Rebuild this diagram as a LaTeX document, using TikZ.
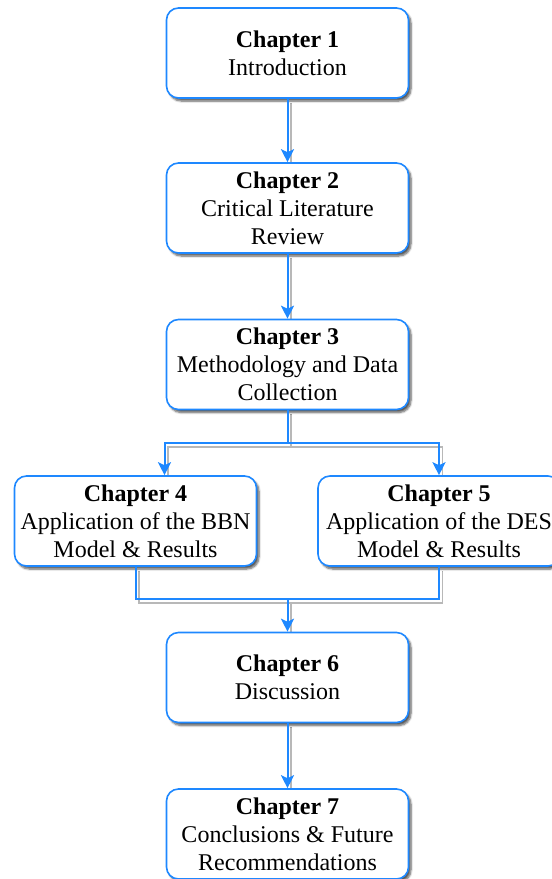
\documentclass[tikz,border=0pt]{standalone}
\usepackage{fontspec}
\setmainfont{Liberation Serif}
\usetikzlibrary{arrows.meta,shadows.blur}
\definecolor{linkblue}{RGB}{30,136,255}
\pgfdeclarelayer{bg}
\pgfsetlayers{bg,main}
% all connectors of the chart; #1 = plain segment style, #2 = arrow style
\newcommand{\chapterlinks}[2]{%
  \draw[#2] (c1.south) -- (c2.north);
  \draw[#2] (c2.south) -- (c3.north);
  \draw[#1] (c3.south) -- (split);
  \draw[#2] (split) -| ([xshift=29pt]c4.north);
  \draw[#2] (split) -| (c5.north);
  \draw[#1] (c4.south) |- (join) -| (c5.south);
  \draw[#2] (join) -- (c6.north);
  \draw[#2] (c6.south) -- (c7.north);
}
\begin{document}
\begin{tikzpicture}[x=1pt,y=-1pt,
  chapbox/.style={draw=linkblue, line width=1.6pt, fill=white,
    rounded corners=12pt, minimum width=242pt, minimum height=90pt,
    inner sep=0pt, align=center, font=\fontsize{24}{28}\selectfont,
    text depth=-5pt,
    blur shadow={shadow xshift=2.5pt, shadow yshift=-3pt,
      shadow blur steps=6, shadow blur radius=2pt, shadow opacity=65}},
  link/.style={draw=linkblue, line width=2pt},
  arrowlink/.style={link, -{Stealth[length=13pt,width=13pt,inset=3pt]}},
  shadowlink/.style={draw=black!28, line width=1.3pt},
]
\useasboundingbox (0,0) rectangle (552,879);

\node[chapbox] (c1) at (287.5,53)    {\textbf{Chapter 1}\\Introduction};
\node[chapbox] (c2) at (287.5,208)   {\textbf{Chapter 2}\\Critical Literature\\Review};
\node[chapbox] (c3) at (287.5,364.5) {\textbf{Chapter 3}\\Methodology and Data\\Collection};
\node[chapbox] (c4) at (135.5,521)   {\textbf{Chapter 4}\\Application of the BBN\\Model \& Results};
\node[chapbox] (c5) at (439,521)     {\textbf{Chapter 5}\\Application of the DES\\Model \& Results};
\node[chapbox] (c6) at (287.5,677.5) {\textbf{Chapter 6}\\Discussion};
\node[chapbox] (c7) at (287.5,834)   {\textbf{Chapter 7}\\Conclusions \& Future\\Recommendations};

\coordinate (split) at (287.5,443);
\coordinate (join)  at (287.5,599);

% grey offset copies of the connectors, behind the boxes
\begin{pgfonlayer}{bg}
  \begin{scope}[transform canvas={shift={(3.5pt,-4pt)}}]
    \chapterlinks{shadowlink}{shadowlink}
  \end{scope}
\end{pgfonlayer}
% the blue connectors themselves
\chapterlinks{link}{arrowlink}
\end{tikzpicture}
\end{document}
